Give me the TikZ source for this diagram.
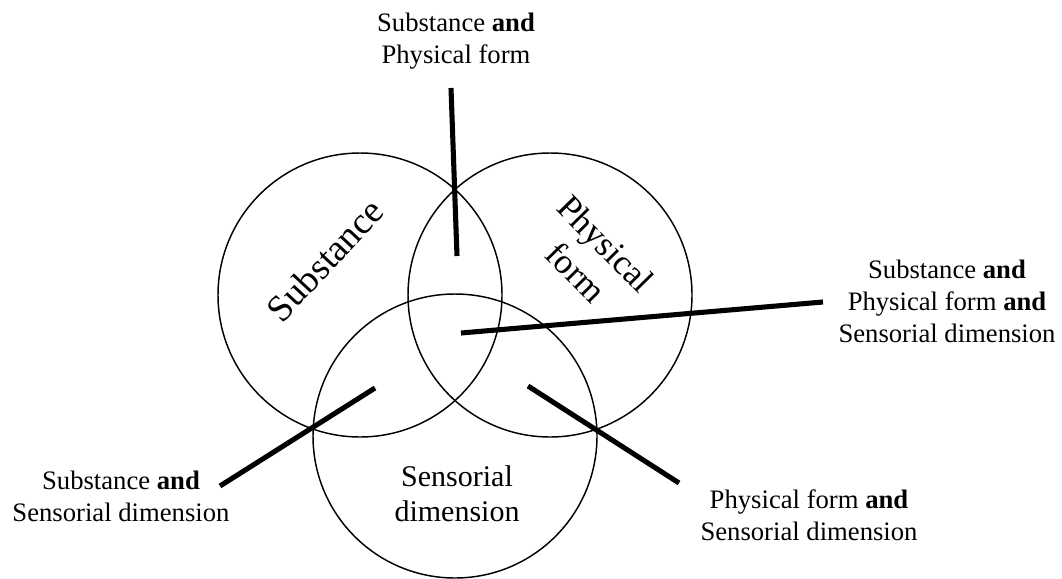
\documentclass[tikz,border=0pt]{standalone}
\usepackage{fontspec}
\setmainfont{Liberation Serif}

\begin{document}
\begin{tikzpicture}[x=0.75pt, y=-0.75pt,
    venn/.style={draw, circle, line width=1.1pt, minimum size=213pt, inner sep=0pt},
    lead/.style={line width=3.8pt},
    tag/.style={align=center, font=\fontsize{20}{24}\selectfont},
    inset/.style={align=center, font=\fontsize{28}{31}\selectfont}]
    \useasboundingbox (0,0) rectangle (1062,578);

    \node[venn] (subst) at (360,295) {};
    \node[venn] (phys) at (550,295) {};
    \node[venn] (sens) at (455,436) {};

    \node[inset, rotate=47] (substlbl) at (325,260) {Substance};
    \node[inset, rotate=-45.5, font=\fontsize{26.5}{31}\selectfont] (physlbl) at (591,258) {Physical\\form};
    \node[inset, font=\fontsize{22.5}{26}\selectfont] (senslbl) at (457,494) {Sensorial\\dimension};

    \node[tag] (sp) at (456,41) {Substance \textbf{and}\\Physical form};
    \node[tag] (spd) at (947,301) {Substance \textbf{and}\\Physical form \textbf{and}\\Sensorial dimension};
    \node[tag] (sd) at (121,496) {Substance \textbf{and}\\Sensorial dimension};
    \node[tag] (pd) at (809,515) {Physical form \textbf{and}\\Sensorial dimension};

    \coordinate (sp-in) at (457,256);
    \coordinate (sp-out) at (451,88);
    \coordinate (spd-in) at (461,333);
    \coordinate (spd-out) at (823,302);
    \coordinate (sd-in) at (375,388);
    \coordinate (sd-out) at (220,486);
    \coordinate (pd-in) at (528,386);
    \coordinate (pd-out) at (679,483);

    \draw[lead] (sp-in) -- (sp-out);
    \draw[lead] (spd-in) -- (spd-out);
    \draw[lead] (sd-in) -- (sd-out);
    \draw[lead] (pd-in) -- (pd-out);
\end{tikzpicture}
\end{document}
